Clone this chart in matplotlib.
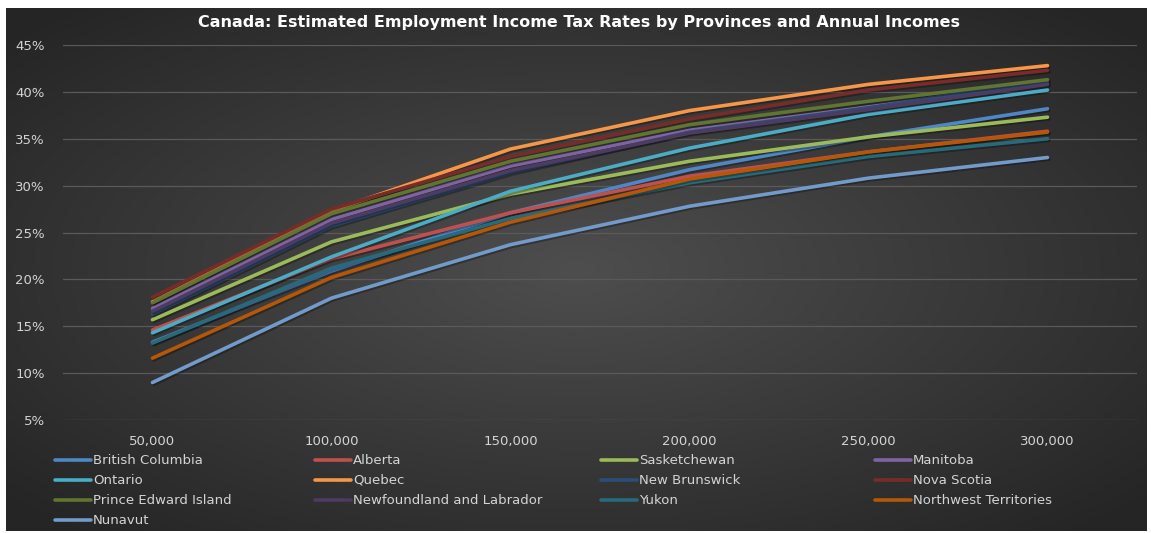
import numpy as np
import matplotlib
matplotlib.use("Agg")
import matplotlib.pyplot as plt
import matplotlib.patheffects as pe
from matplotlib.lines import Line2D

incomes = ['50,000', '100,000', '150,000', '200,000', '250,000', '300,000']

british_columbia = [13.3, 20.9, 27.1, 31.7, 35.2, 38.2]
alberta = [14.6, 22.2, 27.1, 31.0, 33.6, 35.8]
saskatchewan = [15.7, 24.0, 29.1, 32.6, 35.2, 37.3]
manitoba = [16.9, 26.4, 32.1, 35.9, 38.4, 41.0]
ontario = [14.3, 22.4, 29.4, 34.0, 37.6, 40.2]
quebec = [17.6, 27.3, 33.9, 38.0, 40.8, 42.8]
new_brunswick = [16.3, 25.7, 31.4, 35.7, 38.3, 41.2]
nova_scotia = [18.1, 27.5, 33.1, 37.1, 40.2, 42.3]
pei = [17.5, 27.0, 32.6, 36.5, 39.0, 41.3]
newfoundland = [16.6, 26.0, 31.6, 35.6, 38.1, 40.8]
yukon = [13.2, 21.2, 26.5, 30.3, 33.1, 35.0]
nwt = [11.6, 20.2, 26.1, 30.7, 33.6, 35.7]
nunavut = [9.0, 18.0, 23.7, 27.8, 30.8, 33.0]

names = ['British Columbia', 'Alberta', 'Sasketchewan', 'Manitoba',
         'Ontario', 'Quebec', 'New Brunswick', 'Nova Scotia',
         'Prince Edward Island', 'Newfoundland and Labrador', 'Yukon',
         'Northwest Territories', 'Nunavut']
series = [british_columbia, alberta, saskatchewan, manitoba, ontario, quebec,
          new_brunswick, nova_scotia, pei, newfoundland, yukon, nwt, nunavut]
colors = ['#4f86c6', '#c0504d', '#9bbb59', '#8064a2', '#4bacc6', '#f79646',
          '#2c4d75', '#772c2a', '#5f7530', '#4d3b62', '#276a7c', '#b65708',
          '#729aca']

W, H = 1151, 533
fig = plt.figure(figsize=(W / 100, H / 100), dpi=100)
fig.patch.set_facecolor('white')

# dark radial background of the chart area
bg = fig.add_axes([6 / W, 2 / H, 1141 / W, 523 / H])
gx, gy = np.meshgrid(np.linspace(-1, 1, 400), np.linspace(-1, 1, 200))
r = np.clip(np.sqrt(gx ** 2 + gy ** 2) / 1.35, 0, 1)
c0, c1 = np.array([0x4e, 0x4e, 0x4e]) / 255, np.array([0x25, 0x25, 0x25]) / 255
img = c0[None, None, :] * (1 - r[..., None]) + c1[None, None, :] * r[..., None]
bg.imshow(img, aspect='auto', extent=[0, 1, 0, 1])
bg.axis('off')

ax = fig.add_axes([63 / W, 113 / H, 1074 / W, 375 / H])
ax.patch.set_alpha(0)
x = np.arange(len(incomes))
shadow = [pe.SimpleLineShadow(offset=(1.0, -1.2), alpha=0.3, shadow_color='black'), pe.Normal()]
for vals, c in zip(series, colors):
    ax.plot(x, vals, color=c, lw=2.6, solid_capstyle='round', solid_joinstyle='round',
            path_effects=shadow, zorder=3)

ax.set_xlim(-0.5, len(incomes) - 0.5)
ax.set_ylim(5, 45)
ax.set_yticks(np.arange(5, 46, 5))
ax.set_yticklabels([f'{v}%' for v in range(5, 46, 5)])
ax.set_xticks(x)
ax.set_xticklabels(incomes)
ax.grid(axis='y', color='#5a5a5a', lw=0.9)
ax.set_axisbelow(True)
for s in ax.spines.values():
    s.set_visible(False)
ax.tick_params(length=0, colors='#d4d4d4', labelsize=9.5)
ax.tick_params(axis='y', pad=13)
ax.tick_params(axis='x', pad=11)

fig.text(579 / W, 1 - 22 / H,
         'Canada: Estimated Employment Income Tax Rates by Provinces and Annual Incomes',
         ha='center', va='center', color='white', fontsize=11.5, fontweight='bold')

# legend, row-major in four columns
col_x = [55, 315, 601, 875]
row_y = [460, 480, 500, 520]
for i, (name, c) in enumerate(zip(names, colors)):
    cx, ry = col_x[i % 4], row_y[i // 4]
    fig.add_artist(Line2D([cx / W, (cx + 36) / W], [1 - ry / H, 1 - ry / H],
                          color=c, lw=2.6, solid_capstyle='round'))
    fig.text((cx + 38) / W, 1 - ry / H, name, ha='left', va='center',
             color='#d4d4d4', fontsize=9.5)

fig.savefig('out.png', dpi=100, facecolor=fig.get_facecolor())
